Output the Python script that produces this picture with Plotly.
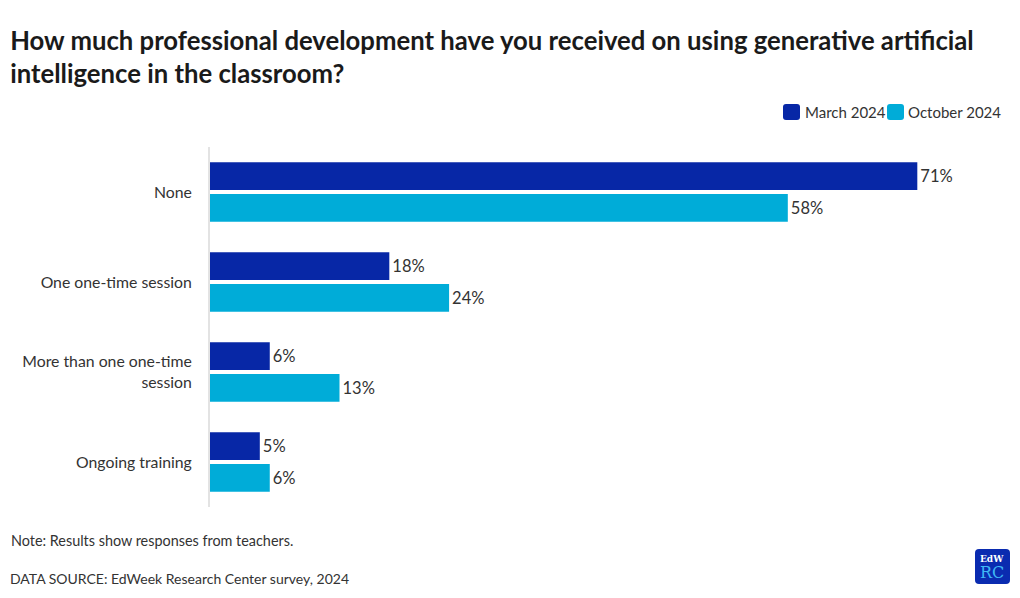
import plotly.graph_objects as go

categories = ["None", "One one-time session", "More than one one-time<br>session", "Ongoing training"]
march_2024 = [71, 18, 6, 5]
october_2024 = [58, 24, 13, 6]
series_names = ["March 2024", "October 2024"]

FONT = "Lato"
C_MAR = "#0727A6"
C_OCT = "#00ACD8"
TXT = "#333333"

W, H = 1020, 598
ML, MR, MT, MB = 210, 20, 147, 91
PW, PH = W - ML - MR, H - MT - MB


def px(x):  # pixel x -> paper
    return (x - ML) / PW


def py(y):  # pixel y -> paper
    return (H - MB - y) / PH


def rrect(x0, y0, x1, y1, r):
    X0, X1 = px(x0), px(x1)
    Y0, Y1 = py(y0), py(y1)  # Y0 top (larger)
    rx, ry = r / PW, r / PH
    return (f"M {X0+rx},{Y0} L {X1-rx},{Y0} Q {X1},{Y0} {X1},{Y0-ry} "
            f"L {X1},{Y1+ry} Q {X1},{Y1} {X1-rx},{Y1} L {X0+rx},{Y1} "
            f"Q {X0},{Y1} {X0},{Y1+ry} L {X0},{Y0-ry} Q {X0},{Y0} {X0+rx},{Y0} Z")


fig = go.Figure()
for name, vals, col in [(series_names[0], march_2024, C_MAR), (series_names[1], october_2024, C_OCT)]:
    fig.add_trace(go.Bar(
        y=categories, x=vals, name=name, orientation="h",
        marker=dict(color=col, line=dict(width=0)),
        text=[f"{v}%" for v in vals], textposition="outside",
        textfont=dict(size=16.5, color=TXT, family=FONT),
        cliponaxis=False, showlegend=False,
    ))

fig.update_layout(
    width=W, height=H,
    paper_bgcolor="white", plot_bgcolor="white",
    margin=dict(l=ML, r=MR, t=MT, b=MB, autoexpand=False),
    barmode="group", bargap=0.295, bargroupgap=0.125,
    font=dict(family=FONT, color=TXT),
    title=dict(
        text="<b>How much professional development have you received on using generative artificial<br>intelligence in the classroom?</b>",
        x=0.010, xanchor="left", xref="container",
        y=0.917, yanchor="top", yref="container",
        font=dict(size=25.7, color="#1a1a1a", family=FONT, weight=900),
    ),
    xaxis=dict(range=[0, 79.3], visible=False, fixedrange=True),
    yaxis=dict(
        autorange="reversed", showline=True, linecolor="#E3E3E3", linewidth=2,
        ticks="", ticklabelstandoff=13, showgrid=False, fixedrange=True,
        tickfont=dict(size=15.8, color=TXT, family=FONT),
    ),
    showlegend=False,
)

# manual legend
leg_items = [(series_names[0], C_MAR, 783, 803), (series_names[1], C_OCT, 887, 906)]
for name, col, sx, tx in leg_items:
    fig.add_shape(type="path", xref="paper", yref="paper", path=rrect(sx, 104, sx + 17, 120, 3),
                  fillcolor=col, line=dict(width=0))
    fig.add_annotation(text=name, xref="paper", yref="paper", x=px(tx), xanchor="left",
                       y=py(112), yanchor="middle", showarrow=False,
                       font=dict(size=15, color=TXT, family=FONT))

fig.add_annotation(text="Note: Results show responses from teachers.", xref="paper", yref="paper",
                   x=px(9), xanchor="left", y=py(540), yanchor="middle", showarrow=False,
                   font=dict(size=14.4, color=TXT, family=FONT))
fig.add_annotation(text="DATA SOURCE: EdWeek Research Center survey, 2024", xref="paper", yref="paper",
                   x=px(8), xanchor="left", y=py(578), yanchor="middle", showarrow=False,
                   font=dict(size=14, color=TXT, family=FONT))

# logo
fig.add_shape(type="path", xref="paper", yref="paper", path=rrect(975, 549, 1010, 584, 4),
              fillcolor="#0A2BB0", line=dict(width=0), layer="above")
fig.add_annotation(text="<b>EdW</b>", xref="paper", yref="paper", x=px(978), xanchor="left", y=py(559),
                   yanchor="middle", showarrow=False, font=dict(size=9, color="white", family="DejaVu Serif"))
fig.add_annotation(text="RC", xref="paper", yref="paper", x=px(978), xanchor="left", y=py(572),
                   yanchor="middle", showarrow=False, font=dict(size=16, color="#3FB8F5", family="DejaVu Serif"))

fig.write_html("out.html", config={"displayModeBar": False},
               post_script="document.body.style.margin='0';document.body.style.overflow='hidden';")
